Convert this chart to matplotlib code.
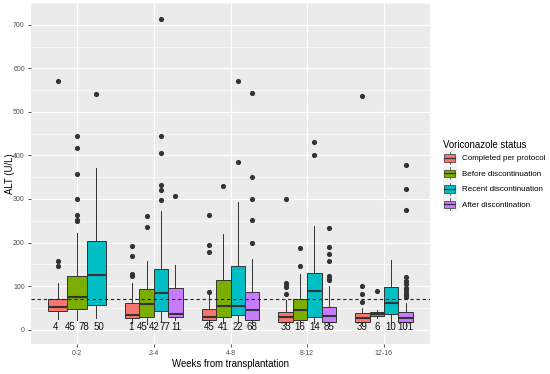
import matplotlib
matplotlib.use("Agg")
import matplotlib.pyplot as plt
from matplotlib.legend_handler import HandlerBase
from matplotlib.patches import Rectangle, Patch
from matplotlib.lines import Line2D

plt.rcParams['font.family'] = ['Liberation Sans', 'DejaVu Sans']

categories = ["0-2", "2-4", "4-8", "8-12", "12-16"]
statuses = ["Completed per protocol", "Before discontinuation",
            "Recent discontinuation", "After discontination"]
colors = ["#F8766D", "#7CAE00", "#00BFC4", "#C77CFF"]

# box statistics per category: list of (status index, q1, median, q3, whislo, whishi, fliers)
box_0_2 = [
    (0, 43, 53, 70, 25, 107, [145, 157, 572]),
    (1, 47, 76, 123, 22, 221, [249, 252, 264, 300, 358, 416, 444]),
    (2, 57, 126, 203, 26, 370, [542]),
]
box_2_4 = [
    (0, 26, 33, 60, 15, 108, [123, 125, 128, 169, 192]),
    (1, 28, 58, 93, 14, 157, [236, 261]),
    (2, 42, 83, 139, 18, 272, [297, 320, 333, 406, 444, 713]),
    (3, 29, 37, 95, 22, 148, [306]),
]
box_4_8 = [
    (0, 21, 29, 47, 12, 80, [86, 178, 194, 264]),
    (1, 30, 55, 113, 16, 219, [330]),
    (2, 33, 55, 145, 18, 293, [385, 571]),
    (3, 22, 44, 86, 15, 162, [200, 252, 300, 350, 543]),
]
box_8_12 = [
    (0, 17, 28, 41, 10, 68, [81, 97, 101, 106, 300]),
    (1, 22, 44, 70, 15, 128, [146, 187]),
    (2, 30, 89, 129, 15, 239, [401, 431]),
    (3, 17, 31, 51, 8, 100, [113, 117, 122, 157, 174, 190, 233]),
]
box_12_16 = [
    (0, 18, 27, 38, 10, 50, [64, 81, 100, 536]),
    (1, 31, 36, 41, 27, 45, [88]),
    (2, 37, 60, 99, 15, 160, []),
    (3, 18, 26, 41, 8, 62, [76, 80, 85, 90, 95, 105, 112, 120, 275, 324, 377]),
]
boxes = [box_0_2, box_2_4, box_4_8, box_8_12, box_12_16]

count_labels = [
    ["4", "45", "78", "50"],
    ["1", "45", "42", "77", "11"],
    ["45", "41", "22", "68"],
    ["33", "16", "14", "85"],
    ["39", "6", "10", "101"],
]
ref_line = 70
label_y = 5

fig = plt.figure(figsize=(5.5, 3.74), dpi=100)
fig.patch.set_facecolor("white")
ax = fig.add_axes([31/550, 30/374, 399/550, 341/374])
ax.set_facecolor("#EBEBEB")

TOTAL = 0.75
edge = "#333333"
for gi, grp in enumerate(boxes):
    n = len(grp)
    w = TOTAL / n
    for k, (si, q1, med, q3, lo, hi, fl) in enumerate(grp):
        pos = gi + 1 + (k - (n - 1) / 2) * w
        stats = [dict(q1=q1, med=med, q3=q3, whislo=lo, whishi=hi, fliers=fl)]
        ax.bxp(stats, positions=[pos], widths=[w], patch_artist=True,
               showcaps=False, manage_ticks=False,
               boxprops=dict(facecolor=colors[si], edgecolor=edge, linewidth=0.7),
               medianprops=dict(color=edge, linewidth=1.5),
               whiskerprops=dict(color=edge, linewidth=0.7),
               flierprops=dict(marker='o', markerfacecolor=edge, markeredgecolor=edge,
                               markersize=2.7, linestyle='none'),
               zorder=3)
    labs = count_labels[gi]
    m = len(labs)
    lw = TOTAL / m
    for k, t in enumerate(labs):
        pos = gi + 1 + (k - (m - 1) / 2) * lw
        ax.text(pos, label_y, t, ha='center', va='center', fontsize=7.0, color='#111111', zorder=4)

ax.axhline(ref_line, color='#222222', linestyle=(0, (3, 2.5)), linewidth=0.8, zorder=5)

ax.set_xlim(0.4, 5.6)
ax.set_ylim(-33, 749)
ax.set_xticks(range(1, 6))
ax.set_xticklabels(categories)
ax.set_yticks(range(0, 701, 100))
ax.set_yticks(range(50, 751, 100), minor=True)
ax.grid(True, which='major', color='white', linewidth=0.9, zorder=0)
ax.grid(True, which='minor', axis='y', color='white', linewidth=0.45, zorder=0)
ax.set_axisbelow(True)
for s in ax.spines.values():
    s.set_visible(False)
ax.tick_params(axis='both', which='major', length=2.5, width=0.6, color='#333333',
               labelsize=5.0, labelcolor='#4D4D4D', pad=2)
ax.tick_params(axis='y', which='minor', length=0)
ax.set_xlabel("Weeks from transplantation", fontsize=6.9, color='black')
ax.set_ylabel("ALT (U/L)", fontsize=6.9, color='black')
ax.xaxis.set_label_coords(0.499, -0.043)
ax.yaxis.set_label_coords(-0.041, 0.5)


class BoxHandler(HandlerBase):
    def create_artists(self, legend, orig_handle, xdescent, ydescent, width, height, fontsize, trans):
        x0, y0 = -xdescent, -ydescent
        fc = orig_handle.get_facecolor()
        bg = Rectangle((x0, y0), width, height, facecolor='#F2F2F2', edgecolor='none', transform=trans)
        vl = Line2D([x0 + width / 2] * 2, [y0 + 0.1 * height, y0 + 0.9 * height],
                    color=edge, linewidth=0.5, transform=trans)
        bx = Rectangle((x0 + 0.1 * width, y0 + 0.25 * height), 0.8 * width, 0.5 * height,
                       facecolor=fc, edgecolor=edge, linewidth=0.5, transform=trans)
        md = Line2D([x0 + 0.1 * width, x0 + 0.9 * width], [y0 + height / 2] * 2,
                    color=edge, linewidth=0.9, transform=trans)
        return [bg, vl, bx, md]


handles = [Patch(facecolor=c, label=s) for c, s in zip(colors, statuses)]
leg = fig.legend(handles=handles, labels=statuses, loc='upper left',
                 bbox_to_anchor=(443/550, 1 - 140/374), frameon=False,
                 title="Voriconazole status", title_fontsize=6.9, fontsize=5.8,
                 handler_map={Patch: BoxHandler()}, handlelength=1.7, handleheight=2.5,
                 labelspacing=0.05, handletextpad=0.7, borderpad=0, borderaxespad=0)
leg._legend_box.align = 'left'

fig.savefig("out.png", dpi=100)
